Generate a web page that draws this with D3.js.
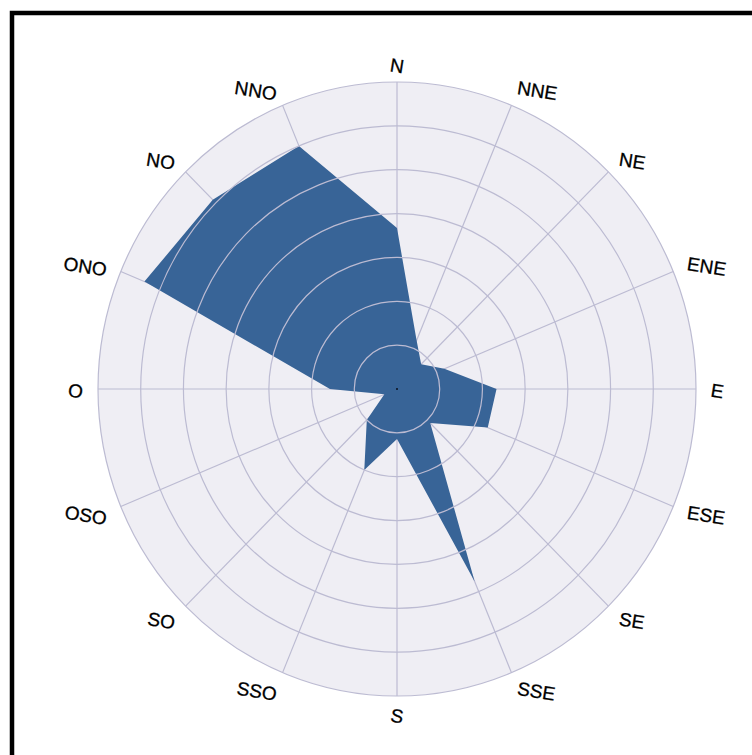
<!DOCTYPE html>
<html>
<head>
<meta charset="utf-8">
<script src="https://cdn.jsdelivr.net/npm/d3@7/dist/d3.min.js"></script>
<style>
  html, body { margin: 0; padding: 0; background: #ffffff; }
  svg { display: block; }
</style>
</head>
<body>
<svg id="chart" width="752" height="755"></svg>
<script>
// ---- data ----
const directions = ["N","NNE","NE","ENE","E","ESE","SE","SSE","S","SSO","SO","OSO","O","ONO","NO","NNO"];
const values = [3.67, 1.2, 0.8, 1.2, 2.33, 2.3, 1.1, 4.75, 1.14, 2.0, 1.0, 0.32, 1.57, 6.4, 6.1, 6.0];
const ringValues = [1, 2, 3, 4, 5, 6, 7];

// ---- layout ----
const cx = 397, cy = 389;
const rx = 299, ry = 307;
const maxV = 7;

const svg = d3.select("#chart");

// frame
svg.append("rect")
  .attr("x", 12).attr("y", 13)
  .attr("width", 900).attr("height", 900)
  .attr("fill", "none")
  .attr("stroke", "#000")
  .attr("stroke-width", 4.5);

const scaleX = d3.scaleLinear().domain([0, maxV]).range([0, rx]);
const scaleY = d3.scaleLinear().domain([0, maxV]).range([0, ry]);
const angle = d3.scaleLinear().domain([0, directions.length]).range([0, 2 * Math.PI]);

const px = (i, v) => cx + scaleX(v) * Math.sin(angle(i));
const py = (i, v) => cy - scaleY(v) * Math.cos(angle(i));

const g = svg.append("g");

// background
g.append("ellipse")
  .attr("cx", cx).attr("cy", cy)
  .attr("rx", scaleX(maxV)).attr("ry", scaleY(maxV))
  .attr("fill", "#efeef4");

// spokes
g.selectAll("line.spoke")
  .data(directions)
  .join("line")
  .attr("class", "spoke")
  .attr("x1", cx).attr("y1", cy)
  .attr("x2", (d, i) => px(i, maxV))
  .attr("y2", (d, i) => py(i, maxV))
  .attr("stroke", "#bcbbd2")
  .attr("stroke-width", 1.2);

// area polygon
const line = d3.line()
  .x((d, i) => px(i, d))
  .y((d, i) => py(i, d))
  .curve(d3.curveLinearClosed);

g.append("path")
  .datum(values)
  .attr("d", line)
  .attr("fill", "#386497")
  .attr("stroke", "none");

// rings (drawn above the area)
g.selectAll("ellipse.ring")
  .data(ringValues)
  .join("ellipse")
  .attr("class", "ring")
  .attr("cx", cx).attr("cy", cy)
  .attr("rx", d => scaleX(d))
  .attr("ry", d => scaleY(d))
  .attr("fill", "none")
  .attr("stroke", "#bcbbd2")
  .attr("stroke-width", 1.2);

// center dot
g.append("rect")
  .attr("x", cx - 1).attr("y", cy - 1)
  .attr("width", 2).attr("height", 2)
  .attr("fill", "#15243a");

// labels
const labR = 314, labK = 325, labDy = 2;
g.selectAll("text.lab")
  .data(directions)
  .join("text")
  .attr("class", "lab")
  .attr("font-family", "Liberation Sans, Arial, sans-serif")
  .attr("font-size", 19)
  .attr("fill", "#000")
  .attr("stroke", "#000")
  .attr("stroke-width", 0.3)
  .each(function(d, i) {
    const a = angle(i);
    const s = Math.sin(a), c = Math.cos(a);
    const x = cx + labR * s;
    const y = cy + labDy - labK * c;
    const anchor = s > 0.1 ? "start" : (s < -0.1 ? "end" : "middle");
    const t = d3.select(this)
      .attr("x", x).attr("y", y)
      .attr("text-anchor", anchor)
      .attr("dominant-baseline", "central")
      .text(d);
    const b = this.getBBox();
    const mx = b.x + b.width / 2, my = b.y + b.height / 2;
    t.attr("transform", `rotate(9, ${mx}, ${my})`);
  });
</script>
</body>
</html>
